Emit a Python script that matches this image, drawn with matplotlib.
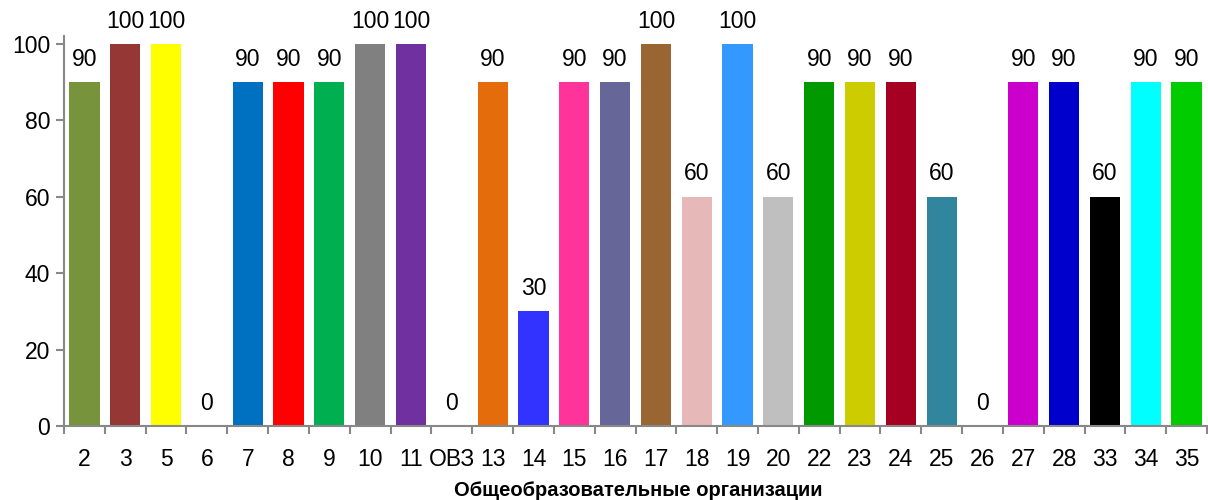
import matplotlib.pyplot as plt

organizacii = ['2', '3', '5', '6', '7', '8', '9', '10', '11', 'ОВЗ', '13', '14', '15', '16', '17',
               '18', '19', '20', '22', '23', '24', '25', '26', '27', '28', '33', '34', '35']
znacheniya = [90, 100, 100, 0, 90, 90, 90, 100, 100, 0, 90, 30, 90, 90, 100,
              60, 100, 60, 90, 90, 90, 60, 0, 90, 90, 60, 90, 90]
cveta = ['#77933C', '#953735', '#FFFF00', '#FFFFFF', '#0070C0', '#FF0000', '#00B050', '#808080',
         '#7030A0', '#FFFFFF', '#E46C0A', '#3333FF', '#FF3399', '#666699', '#996633', '#E6B9B8',
         '#3399FF', '#BFBFBF', '#009900', '#CCCC00', '#A50021', '#31859C', '#FFFFFF', '#CC00CC',
         '#0000CC', '#000000', '#00FFFF', '#00CC00']

plt.rcParams['font.family'] = ['Liberation Sans Narrow', 'Liberation Sans', 'DejaVu Sans']

fig = plt.figure(figsize=(12.08, 5), dpi=100)
ax = fig.add_axes([64 / 1208, 74 / 500, 1143 / 1208, 390 / 500])

x = list(range(len(organizacii)))
ax.bar(x, znacheniya, width=0.74, color=cveta)
for xi, v in zip(x, znacheniya):
    ax.annotate(str(v), (xi, v), xytext=(0, 8), textcoords='offset points',
                ha='center', va='bottom', fontsize=16.5)

ax.set_xlim(-0.5, len(organizacii) - 0.5)
ax.set_ylim(0, 102)
ax.set_yticks(range(0, 101, 20))
ax.set_xticks(x)
ax.set_xticklabels(organizacii, fontsize=16.5)
ax.set_xticks([i - 0.5 for i in range(len(organizacii) + 1)], minor=True)
ax.tick_params(axis='x', which='major', length=0, pad=16)
ax.tick_params(axis='x', which='minor', length=6, color='#888888', width=1.5)
ax.tick_params(axis='y', length=6, color='#888888', width=1.5, labelsize=16.5, pad=4)
for s in ['top', 'right']:
    ax.spines[s].set_visible(False)
for s in ['left', 'bottom']:
    ax.spines[s].set_color('#888888')
    ax.spines[s].set_linewidth(1.5)

# подпись оси — вручную, чтобы не обрезалась
fig.text(638 / 1208, 10 / 500, 'Общеобразовательные организации', fontsize=14.5,
         fontweight='bold', ha='center', va='center')

fig.savefig('out.png')
